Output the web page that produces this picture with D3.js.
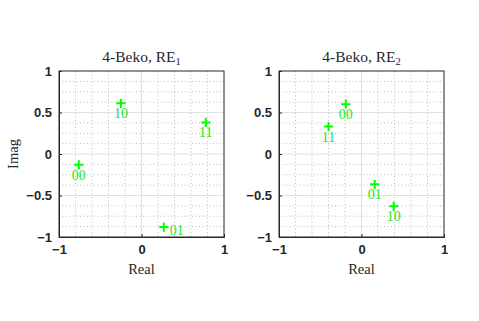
<!DOCTYPE html>
<html><head><meta charset="utf-8">
<script src="https://cdn.jsdelivr.net/npm/d3@7"></script>
<style>body{margin:0;background:#fff}svg{display:block}</style>
</head><body>
<svg id="c" width="479" height="321"></svg>
<script>
const xTicks = [-1, 0, 1];
const yTicks = [-1, -0.5, 0, 0.5, 1];
const labels1 = ["10", "11", "00", "01"];
const real1 = [-0.25, 0.78, -0.76, 0.27];
const imag1 = [0.61, 0.38, -0.13, -0.88];
const labels2 = ["00", "11", "01", "10"];
const real2 = [-0.19, -0.40, 0.16, 0.39];
const imag2 = [0.60, 0.33, -0.365, -0.63];
const labelPos1 = ["below", "below", "below", "right"];
const labelPos2 = ["below", "below", "below", "below"];

const svg = d3.select("#c");
const panels = [
  {left: 59, sub: "1", labels: labels1, re: real1, im: imag1, pos: labelPos1, ylab: true},
  {left: 279, sub: "2", labels: labels2, re: real2, im: imag2, pos: labelPos2, ylab: false}
];
const W = 165, plotTop = 71, H = 166;
const green = "#00ff00";
const serif = "'Liberation Serif','DejaVu Serif',serif";

panels.forEach(p => {
  const g = svg.append("g").attr("transform", `translate(${p.left},${plotTop})`);
  const x = d3.scaleLinear().domain([-1, 1]).range([0, W]);
  const y = d3.scaleLinear().domain([-1, 1]).range([H, 0]);
  const xMinor = d3.range(-0.8, 0.81, 0.2).filter(v => Math.abs(v) > 1e-6);
  const yMinor = d3.range(-0.875, 0.876, 0.125).filter(v => Math.abs((v*2) - Math.round(v*2)) > 1e-6);
  g.selectAll(".xm").data(xMinor).join("line")
    .attr("x1", d => x(d)).attr("x2", d => x(d)).attr("y1", 0).attr("y2", H)
    .attr("stroke", "#bdbdbd").attr("stroke-width", 1).attr("stroke-dasharray", "1,2.5");
  g.selectAll(".ym").data(yMinor).join("line")
    .attr("y1", d => y(d)).attr("y2", d => y(d)).attr("x1", 0).attr("x2", W)
    .attr("stroke", "#bdbdbd").attr("stroke-width", 1).attr("stroke-dasharray", "1,2.5");
  g.selectAll(".xg").data(xTicks.slice(1, -1)).join("line")
    .attr("x1", d => x(d)).attr("x2", d => x(d)).attr("y1", 0).attr("y2", H)
    .attr("stroke", "#e2e2e2").attr("stroke-width", 1.2);
  g.selectAll(".yg").data(yTicks.slice(1, -1)).join("line")
    .attr("y1", d => y(d)).attr("y2", d => y(d)).attr("x1", 0).attr("x2", W)
    .attr("stroke", "#e2e2e2").attr("stroke-width", 1.2);
  const xa = g.append("g").attr("transform", `translate(0,${H})`)
    .call(d3.axisBottom(x).tickValues(xTicks).tickFormat(d3.format("")).tickSize(-3).tickPadding(8));
  const ya = g.append("g")
    .call(d3.axisLeft(y).tickValues(yTicks).tickFormat(d3.format("")).tickSize(-3).tickPadding(7));
  [xa, ya].forEach(a => {
    a.select(".domain").attr("stroke", "#262626");
    a.selectAll(".tick line").attr("stroke", "#262626");
    a.selectAll("text").attr("fill", "#262626").style("font-family", "'Liberation Sans',Arial,sans-serif")
      .style("font-weight", "bold").style("font-size", "13px");
  });
  g.append("rect").attr("x", 0).attr("y", 0).attr("width", W).attr("height", H)
    .attr("fill", "none").attr("stroke", "#262626").attr("stroke-width", 1);
  const t = g.append("text").attr("x", W / 2).attr("y", -9).attr("text-anchor", "middle")
    .style("font-family", serif).style("font-size", "15.5px").attr("fill", "#262626");
  t.append("tspan").text("4-Beko, RE");
  t.append("tspan").text(p.sub).attr("font-size", "10.5px").attr("dy", 3);
  g.append("text").attr("x", W / 2).attr("y", H + 37).attr("text-anchor", "middle")
    .style("font-family", serif).style("font-size", "14.5px").attr("fill", "#262626").text("Real");
  if (p.ylab) {
    g.append("text").attr("transform", `translate(${-41},${H / 2}) rotate(-90)`).attr("text-anchor", "middle")
      .style("font-family", serif).style("font-size", "14.5px").attr("fill", "#262626").text("Imag");
  }
  const pts = p.labels.map((l, i) => ({l, re: p.re[i], im: p.im[i], pos: p.pos[i]}));
  const s = 4.6;
  const m = g.selectAll(".pt").data(pts).join("g")
    .attr("transform", d => `translate(${x(d.re)},${y(d.im)})`);
  m.append("path").attr("d", `M${-s},0H${s}M0,${-s}V${s}`).attr("stroke", green).attr("stroke-width", 2);
  m.append("text")
    .attr("x", d => d.pos === "right" ? 6 : 0)
    .attr("y", d => d.pos === "right" ? 8 : 15)
    .attr("text-anchor", d => d.pos === "right" ? "start" : "middle")
    .style("font-family", serif).style("font-size", "14px").attr("fill", "#22e622").text(d => d.l);
});
</script>
</body></html>
